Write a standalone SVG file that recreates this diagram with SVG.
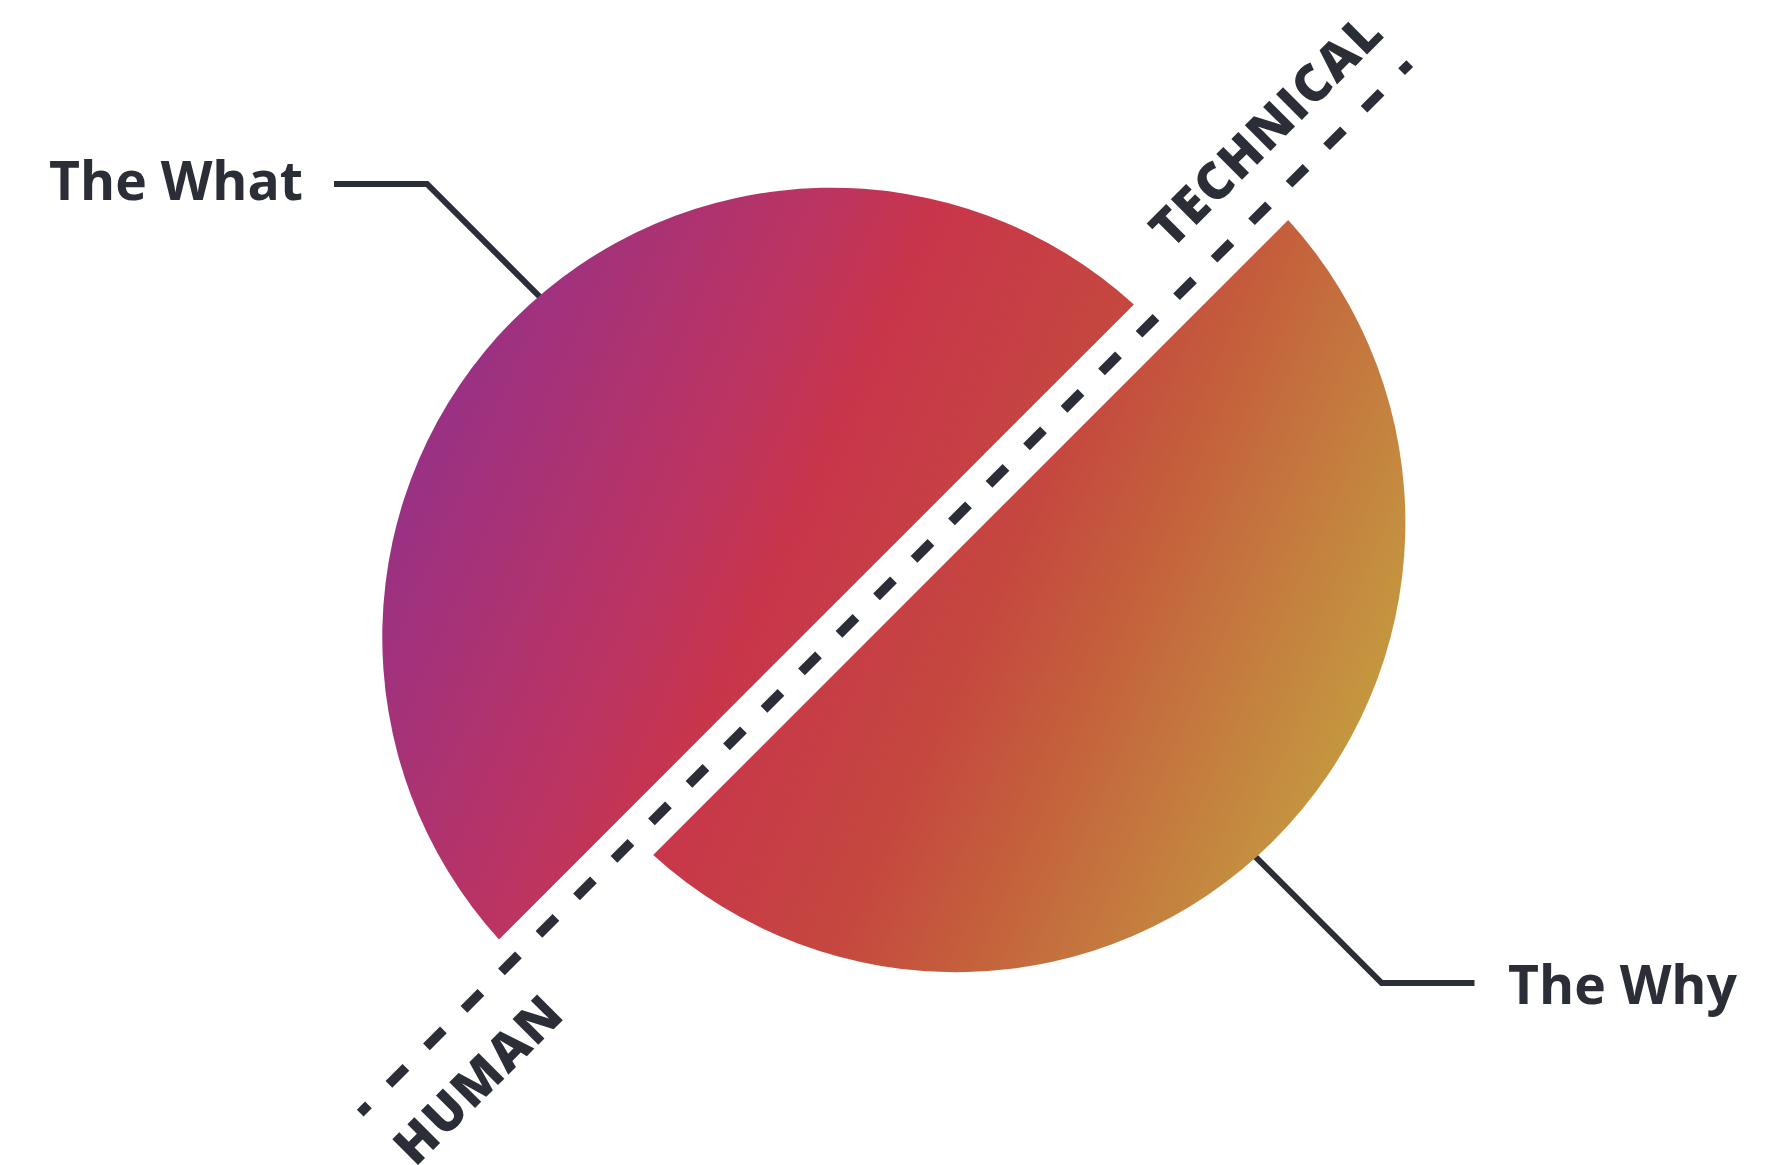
<svg xmlns="http://www.w3.org/2000/svg" width="1773" height="1165" viewBox="0 0 1773 1165">
  <style>
    .label { font-family: "Open Sans", "Liberation Sans", sans-serif; font-weight: 700; font-size: 53.5px; fill: #2b2e37; }
    .axis { font-family: "Open Sans", "Liberation Sans", sans-serif; font-weight: 800; font-size: 51px; fill: #2b2e37; letter-spacing: 1.5px; }
    .leader { fill: none; stroke: #2b2e37; stroke-width: 6; stroke-linejoin: miter; }
    .divider { fill: none; stroke: #2b2e37; stroke-width: 9.5; stroke-dasharray: 24 29.04; stroke-dashoffset: 12.4; stroke-linecap: butt; }
  </style>
  <defs>
    <linearGradient id="grad" gradientUnits="userSpaceOnUse" x1="523.7" y1="233.2" x2="1400.2" y2="623.5">
      <stop offset="0" stop-color="#9a3184"/>
      <stop offset="0.28" stop-color="#bd3460"/>
      <stop offset="0.38" stop-color="#c8354b"/>
      <stop offset="0.6" stop-color="#c5473f"/>
      <stop offset="0.72" stop-color="#c45e3c"/>
      <stop offset="0.96" stop-color="#c48f40"/>
      <stop offset="1" stop-color="#c4963f"/>
    </linearGradient>
  </defs>
  <rect width="1773" height="1165" fill="#ffffff"/>
  <g id="connectors">
    <polyline class="leader" points="334,184 427,184 550,307"/>
    <polyline class="leader" points="1474.5,983 1381.7,983 1244,845.3"/>
    <line class="divider" x1="360.2" y1="1113.1" x2="1409.75" y2="63.55"/>
  </g>
  <g id="the-what-half">
    <path d="M 499,939.4 A 449.5 449.5 0 0 1 1133.9,304.4 Z" fill="url(#grad)"/>
  </g>
  <g id="the-why-half">
    <path d="M 1288.2,220 A 449.5 449.5 0 0 1 653.2,855 Z" fill="url(#grad)"/>
  </g>
  <g id="label-the-what">
    <text class="label" x="49" y="200">The What</text>
  </g>
  <g id="label-the-why">
    <text class="label" x="1508" y="1004">The Why</text>
  </g>
  <g id="label-technical">
    <text class="axis" transform="translate(1171.5,250.2) rotate(-45)">TECHNICAL</text>
  </g>
  <g id="label-human">
    <text class="axis" transform="translate(415.3,1167.7) rotate(-45)">HUMAN</text>
  </g>
</svg>
